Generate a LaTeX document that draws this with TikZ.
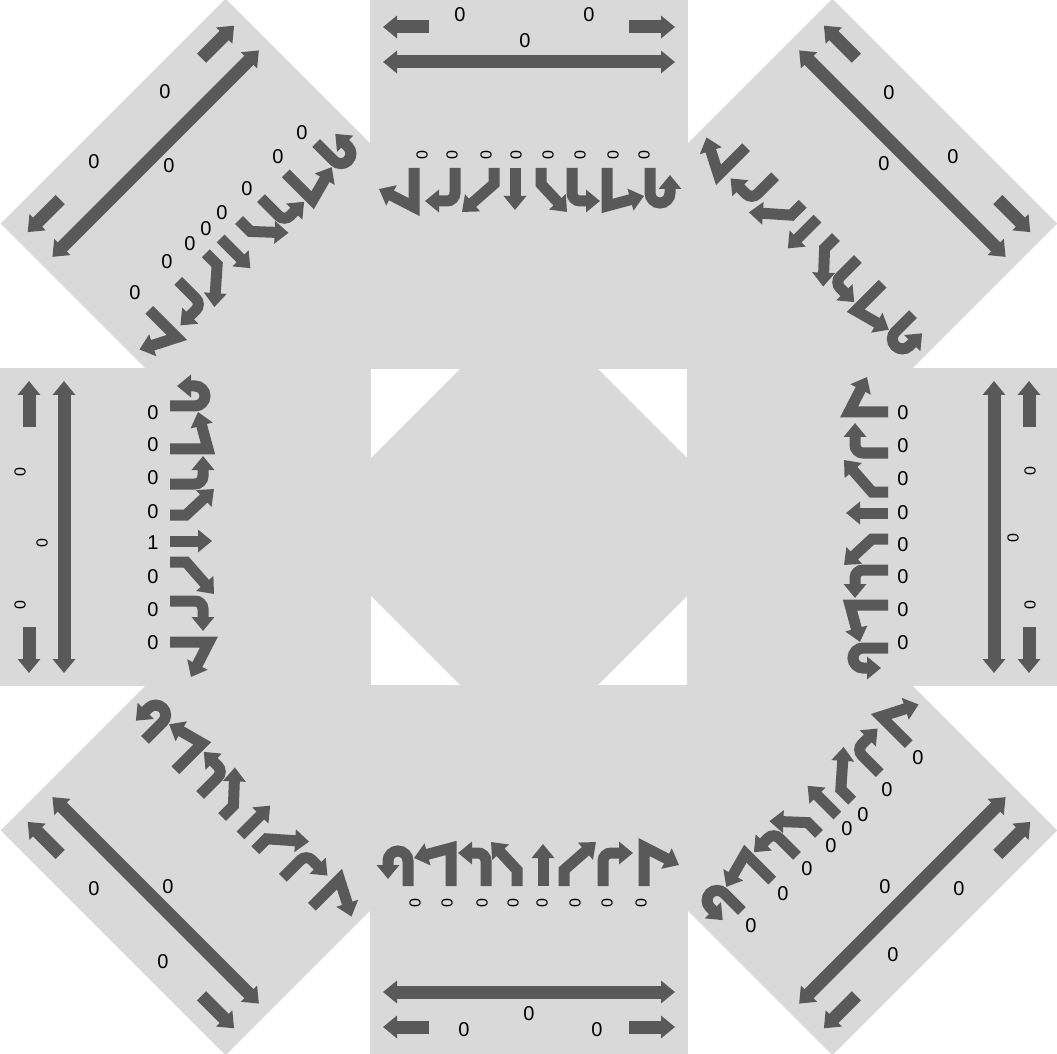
\documentclass[tikz,border=0pt]{standalone}
\usepackage{fontspec}
\setmainfont{Liberation Sans}
\usepackage{tikz}
\usetikzlibrary{arrows.meta}
\definecolor{roadgray}{RGB}{217,217,217}
\definecolor{arrowgray}{RGB}{89,89,89}

% arrows of one leg, drawn as the north leg (#1 = turn, #2 = extra reach)
\newcommand{\legarrows}[2]{%
\begin{scope}[rotate=#1, shift={(0,-#2)}]
  \draw[walkarrow, <->] (-146,-465) -- (146,-465);
  \draw[walkarrow] (-100,-500) -- (-146,-500);
  \draw[walkarrow] (100,-500) -- (146,-500);
  \draw[turnarrow] (-115,-359) -- (-115,-320) -- (-150,-338);
  \draw[turnarrow, rounded corners=4] (-74,-359) -- (-74,-326) -- (-104,-326);
  \draw[turnarrow] (-35,-359) -- (-35,-343) -- (-67,-315);
  \draw[turnarrow] (-14,-359) -- (-14,-317);
  \draw[turnarrow] (12,-359) -- (12,-343) -- (38,-315);
  \draw[turnarrow, rounded corners=4] (43,-359) -- (43,-326) -- (71,-326);
  \draw[turnarrow] (78,-359) -- (78,-321) -- (115,-331);
  \draw[turnarrow] (121,-359) -- (121,-334) arc[start angle=180, end angle=0, radius=10] -- (141,-352);
\end{scope}}

\begin{document}
\begin{tikzpicture}[x=0.5pt, y=-0.5pt,
    walkarrow/.style={arrowgray, line width=6.5pt, >={Triangle[width=11pt,length=7pt]}, ->},
    turnarrow/.style={arrowgray, line width=5.5pt, -{Triangle[width=11pt,length=7pt]}},
    cnt/.style={inner sep=0pt, font=\fontsize{10}{11}\selectfont},
    cntrot/.style={inner sep=0pt, rotate=90, font=\fontsize{8}{9}\selectfont}
]
\useasboundingbox (0,0) rectangle (1057,1054);
\clip (0,0) rectangle (1057,1054);
\fill[white] (0,0) rectangle (1057,1054);

\begin{scope}[shift={(529,527)}]
  % road surface
  \fill[roadgray] (-68,-159) -- (68,-159) -- (159,-68) -- (159,68) -- (68,159)
    -- (-68,159) -- (-159,68) -- (-159,-68) -- cycle;
  \foreach \ang in {0,-90,180,90}
    \fill[roadgray, rotate=\ang] (-159,-158) rectangle (159,-560);
  \foreach \ang in {-45,-135,135,45}
    \fill[roadgray, rotate=\ang] (-159,-225) rectangle (159,-588);
  \foreach \ang/\off in {0/0,-45/63,-90/0,-135/63,180/0,135/63,90/0,45/63}
    {\legarrows{\ang}{\off}}
\end{scope}

% north
\foreach \x [count=\i] in {422,452,486,516,548,580,613,644}
  \node[cntrot] (nc\i) at (\x,155) {0};
\node[cnt] (nw1) at (460,15) {0};
\node[cnt] (nw2) at (589,15) {0};
\node[cnt] (nw3) at (525,41) {0};
% south
\foreach \x [count=\i] in {415,447,482,513,542,575,607,641}
  \node[cntrot] (sc\i) at (\x,903) {0};
\node[cnt] (sw1) at (464,1030) {0};
\node[cnt] (sw2) at (597,1030) {0};
\node[cnt] (sw3) at (529,1014) {0};
% west
\foreach \y/\t [count=\i] in {413/0,445/0,478/0,512/0,543/1,577/0,610/0,643/0}
  \node[cnt] (wc\i) at (153,\y) {\t};
\node[cntrot] (ww1) at (20,472) {0};
\node[cntrot] (ww2) at (42,543) {0};
\node[cntrot] (ww3) at (20,605) {0};
% east
\foreach \y [count=\i] in {413,446,479,513,545,577,610,643}
  \node[cnt] (ec\i) at (903,\y) {0};
\node[cntrot] (ew1) at (1030,471) {0};
\node[cntrot] (ew2) at (1013,538) {0};
\node[cntrot] (ew3) at (1030,605) {0};
% north-west
\foreach \x/\y [count=\i] in {135/293,167/262,190/244,206/229,222/213,247/189,278/157,302/133}
  \node[cnt] (nwc\i) at (\x,\y) {0};
\node[cnt] (nww1) at (165,92) {0};
\node[cnt] (nww2) at (94,162) {0};
\node[cnt] (nww3) at (169,166) {0};
% north-east
\node[cnt] (new1) at (889,93) {0};
\node[cnt] (new2) at (884,164) {0};
\node[cnt] (new3) at (953,157) {0};
% south-west
\node[cnt] (sww1) at (94,889) {0};
\node[cnt] (sww2) at (168,887) {0};
\node[cnt] (sww3) at (163,962) {0};
% south-east
\foreach \x/\y [count=\i] in {918/758,887/790,863/815,847/829,831/846,807/869,783/894,751/926}
  \node[cnt] (sec\i) at (\x,\y) {0};
\node[cnt] (sew1) at (885,887) {0};
\node[cnt] (sew2) at (959,889) {0};
\node[cnt] (sew3) at (893,955) {0};
\end{tikzpicture}
\end{document}
